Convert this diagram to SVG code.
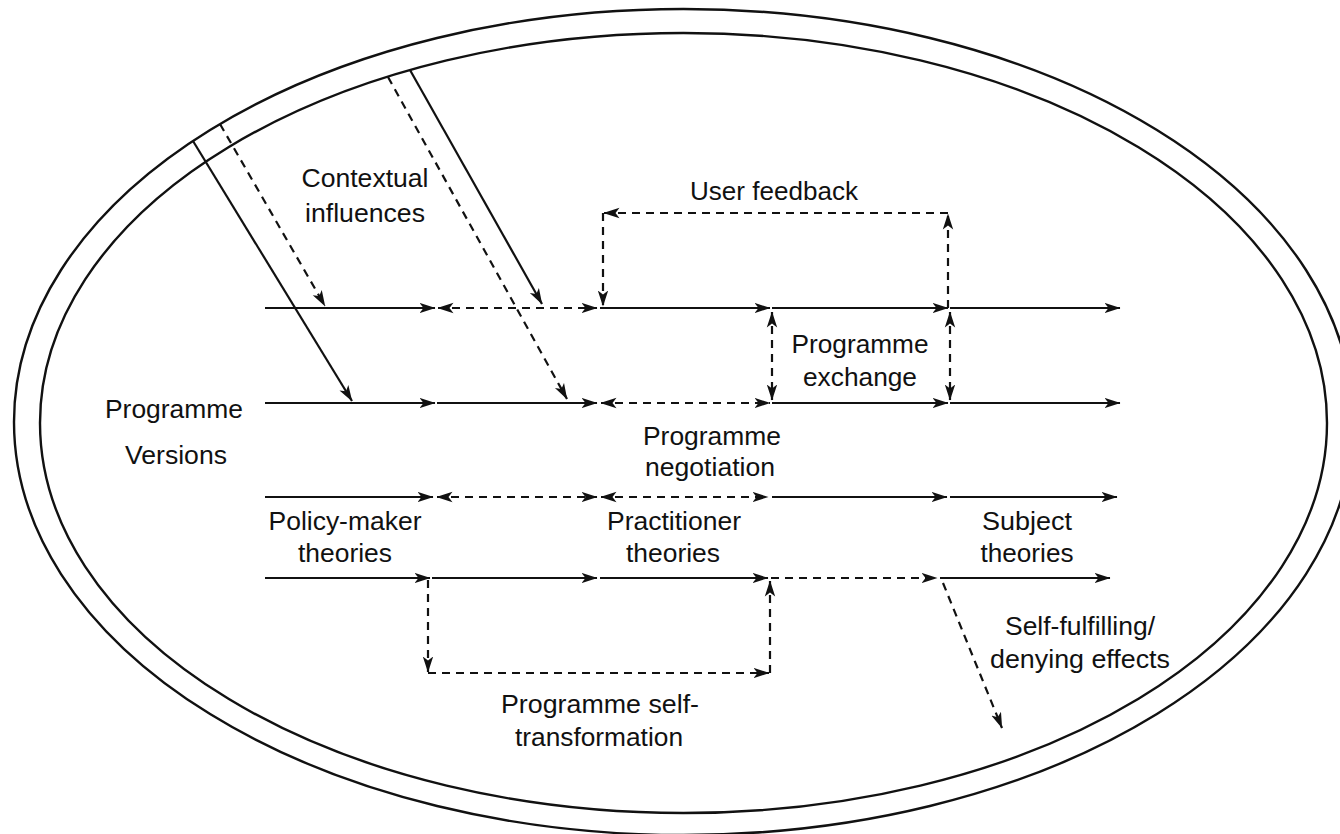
<svg xmlns="http://www.w3.org/2000/svg" width="1340" height="834" viewBox="0 0 1340 834">
<style>
.t{font-family:"Liberation Sans",Arial,Helvetica,sans-serif;font-size:25px;fill:#111;text-anchor:middle}
.s{stroke:#111;stroke-width:2.2;fill:none}
.d{stroke:#111;stroke-width:2.2;fill:none;stroke-dasharray:8,6}
.e{stroke:#111;stroke-width:2.4;fill:none}
.a{marker-end:url(#ah)}
.b{marker-start:url(#ah);marker-end:url(#ah)}
</style>
<defs>
<marker id="ah" markerUnits="userSpaceOnUse" markerWidth="16" markerHeight="12" viewBox="0 0 16 12" refX="15.5" refY="6" orient="auto-start-reverse">
<path d="M0,0.8 L16,6 L0,11.2 L4,6 z" fill="#111"/>
</marker>
</defs>
<rect width="1340" height="834" fill="#fff"/>
<g id="frame">
<ellipse class="e" cx="683.5" cy="422" rx="669.5" ry="413"/>
<ellipse class="e" cx="683.5" cy="423" rx="643.5" ry="390"/>
</g>
<g id="connectors">
<!-- row 1 -->
<line class="s a" x1="265" y1="308" x2="435" y2="308"/>
<line class="d b" x1="438" y1="308" x2="597" y2="308"/>
<line class="s a" x1="600" y1="308" x2="770" y2="308"/>
<line class="s a" x1="772" y1="308" x2="948" y2="308"/>
<line class="s a" x1="950" y1="308" x2="1120" y2="308"/>
<!-- row 2 -->
<line class="s a" x1="265" y1="403" x2="435" y2="403"/>
<line class="s a" x1="437" y1="403" x2="597" y2="403"/>
<line class="d b" x1="601" y1="403" x2="770" y2="403"/>
<line class="s a" x1="772" y1="403" x2="948" y2="403"/>
<line class="s a" x1="950" y1="403" x2="1120" y2="403"/>
<!-- row 3 -->
<line class="s a" x1="265" y1="497" x2="433" y2="497"/>
<line class="d b" x1="437" y1="497" x2="597" y2="497"/>
<line class="d b" x1="601" y1="497" x2="768" y2="497"/>
<line class="s a" x1="772" y1="497" x2="947" y2="497"/>
<line class="s a" x1="950" y1="497" x2="1117" y2="497"/>
<!-- row 4 -->
<line class="s a" x1="265" y1="578" x2="430" y2="578"/>
<line class="s a" x1="432" y1="578" x2="597" y2="578"/>
<line class="s a" x1="600" y1="578" x2="768" y2="578"/>
<line class="d a" x1="771" y1="578" x2="937" y2="578"/>
<line class="s a" x1="940" y1="578" x2="1110" y2="578"/>
<!-- contextual influences diagonals -->
<line class="s a" x1="193" y1="141" x2="352" y2="401"/>
<line class="d a" x1="220" y1="124" x2="325" y2="306"/>
<line class="s a" x1="410" y1="70" x2="542" y2="304"/>
<line class="d a" x1="388" y1="77" x2="567" y2="399"/>
<!-- user feedback -->
<line class="d a" x1="948" y1="308" x2="948" y2="214"/>
<line class="d a" x1="948" y1="213" x2="604" y2="213"/>
<line class="d a" x1="603" y1="213" x2="603" y2="306"/>
<!-- programme exchange -->
<line class="d b" x1="772" y1="312" x2="772" y2="400"/>
<line class="d b" x1="950" y1="312" x2="950" y2="400"/>
<!-- programme self-transformation -->
<line class="d a" x1="428" y1="580" x2="428" y2="672"/>
<line class="d a" x1="428" y1="673" x2="769" y2="673"/>
<line class="d a" x1="770" y1="673" x2="770" y2="581"/>
<!-- self-fulfilling -->
<line class="d a" x1="943" y1="583" x2="1002" y2="728"/>
</g>
<g id="contextual-influences">
<text class="t" x="365" y="187" textLength="127" lengthAdjust="spacingAndGlyphs">Contextual</text>
<text class="t" x="365" y="222" textLength="120" lengthAdjust="spacingAndGlyphs">influences</text>
</g>
<g id="user-feedback">
<text class="t" x="774" y="200" textLength="168" lengthAdjust="spacingAndGlyphs">User feedback</text>
</g>
<g id="programme-exchange">
<text class="t" x="860" y="353" textLength="137" lengthAdjust="spacingAndGlyphs">Programme</text>
<text class="t" x="860" y="386" textLength="114" lengthAdjust="spacingAndGlyphs">exchange</text>
</g>
<g id="programme-versions">
<text class="t" x="174" y="418" textLength="138" lengthAdjust="spacingAndGlyphs">Programme</text>
<text class="t" x="176" y="464" textLength="102" lengthAdjust="spacingAndGlyphs">Versions</text>
</g>
<g id="programme-negotiation">
<text class="t" x="712" y="445" textLength="138" lengthAdjust="spacingAndGlyphs">Programme</text>
<text class="t" x="710" y="476" textLength="130" lengthAdjust="spacingAndGlyphs">negotiation</text>
</g>
<g id="policy-maker-theories">
<text class="t" x="345" y="530" textLength="153" lengthAdjust="spacingAndGlyphs">Policy-maker</text>
<text class="t" x="345" y="562" textLength="94" lengthAdjust="spacingAndGlyphs">theories</text>
</g>
<g id="practitioner-theories">
<text class="t" x="674" y="530" textLength="134" lengthAdjust="spacingAndGlyphs">Practitioner</text>
<text class="t" x="673" y="562" textLength="94" lengthAdjust="spacingAndGlyphs">theories</text>
</g>
<g id="subject-theories">
<text class="t" x="1027" y="530" textLength="90" lengthAdjust="spacingAndGlyphs">Subject</text>
<text class="t" x="1027" y="562" textLength="93" lengthAdjust="spacingAndGlyphs">theories</text>
</g>
<g id="programme-self-transformation">
<text class="t" x="600" y="713" textLength="198" lengthAdjust="spacingAndGlyphs">Programme self-</text>
<text class="t" x="599" y="746" textLength="168" lengthAdjust="spacingAndGlyphs">transformation</text>
</g>
<g id="self-fulfilling-effects">
<text class="t" x="1080" y="635" textLength="150" lengthAdjust="spacingAndGlyphs">Self-fulfilling/</text>
<text class="t" x="1080" y="668" textLength="180" lengthAdjust="spacingAndGlyphs">denying effects</text>
</g>
</svg>
